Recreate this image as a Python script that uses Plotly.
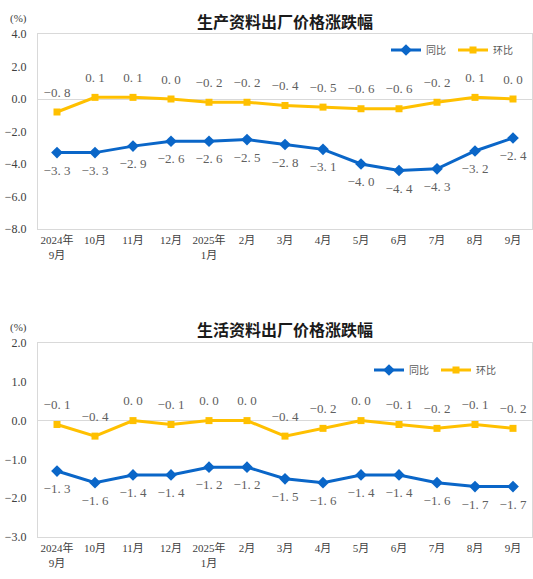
import plotly.graph_objects as go

# months on the category axis
months = ["2024年<br>9月", "10月", "11月", "12月", "2025年<br>1月", "2月", "3月",
          "4月", "5月", "6月", "7月", "8月", "9月"]

# 生产资料 (producer goods)
prod_yoy = [-3.3, -3.3, -2.9, -2.6, -2.6, -2.5, -2.8, -3.1, -4.0, -4.4, -4.3, -3.2, -2.4]
prod_mom = [-0.8, 0.1, 0.1, 0.0, -0.2, -0.2, -0.4, -0.5, -0.6, -0.6, -0.2, 0.1, 0.0]

# 生活资料 (consumer goods)
cons_yoy = [-1.3, -1.6, -1.4, -1.4, -1.2, -1.2, -1.5, -1.6, -1.4, -1.4, -1.6, -1.7, -1.7]
cons_mom = [-0.1, -0.4, 0.0, -0.1, 0.0, 0.0, -0.4, -0.2, 0.0, -0.1, -0.2, -0.1, -0.2]

W, H = 533, 579
BLUE = "#0A66C8"
YELLOW = "#FFC000"
SERIF = "Liberation Serif, Noto Sans CJK SC"


def lbl(vals):
    # mimic the wide spacing of the original labels
    return [f"{v:.1f}".replace("-", "\u2212").replace(".", ". ") for v in vals]


def px_x(p):
    return p / W


def px_y(p):
    return 1 - p / H


fig = go.Figure()

panels = [
    (prod_yoy, prod_mom, "x", "y", "legend"),
    (cons_yoy, cons_mom, "x2", "y2", "legend2"),
]
for yoy, mom, xa, ya, lg in panels:
    for vals, name, col, sym, size, pos in [
        (yoy, "同比", BLUE, "diamond", 9, "bottom center"),
        (mom, "环比", YELLOW, "square", 7, "top center"),
    ]:
        fig.add_trace(go.Scatter(
            x=months, y=vals, name=name, mode="lines+markers",
            xaxis=xa, yaxis=ya, legend=lg,
            line=dict(color=col, width=3),
            marker=dict(symbol=sym, size=size, color=col),
        ))
        # labels: invisible bigger markers push the text further away
        fig.add_trace(go.Scatter(
            x=months, y=vals, mode="markers+text", showlegend=False,
            xaxis=xa, yaxis=ya, hoverinfo="skip",
            marker=dict(size=18, color="rgba(0,0,0,0)"),
            text=lbl(vals), textposition=pos,
            textfont=dict(family=SERIF, size=13, color="#606060"),
            cliponaxis=False,
        ))

xcommon = dict(
    type="category", range=[-0.5, 12.5], domain=[px_x(38), px_x(532)],
    showline=True, mirror=True, linecolor="#D9D9D9", linewidth=1,
    showgrid=False, ticks="", ticklabelstandoff=1,
    tickfont=dict(family=SERIF, size=11, color="#404040"),
)
ycommon = dict(
    showline=True, mirror=True, linecolor="#D9D9D9", linewidth=1,
    showgrid=False, zeroline=True, zerolinecolor="#D9D9D9", zerolinewidth=1,
    tickformat=".1f", ticks="", ticklabelstandoff=8,
    tickfont=dict(family=SERIF, size=12, color="#404040"),
)

legcommon = dict(
    orientation="h", xanchor="left", yanchor="middle",
    font=dict(family="Noto Sans CJK SC", size=10, color="#595959"),
    bgcolor="rgba(0,0,0,0)", itemwidth=30, entrywidth=22,
)

fig.update_layout(
    width=W, height=H,
    margin=dict(l=0, r=0, t=0, b=0, autoexpand=False),
    paper_bgcolor="white", plot_bgcolor="white",
    showlegend=True, hovermode=False,
    xaxis=dict(xcommon, anchor="y"),
    yaxis=dict(ycommon, anchor="x", range=[-8, 4], dtick=2,
               domain=[px_y(229), px_y(34)]),
    xaxis2=dict(xcommon, anchor="y2"),
    yaxis2=dict(ycommon, anchor="x2", range=[-3, 2], dtick=1,
                domain=[px_y(537), px_y(343)]),
    legend=dict(legcommon, x=px_x(386), y=px_y(50)),
    legend2=dict(legcommon, x=px_x(369), y=px_y(370)),
)

titles = [("生产资料出厂价格涨跌幅", 21), ("生活资料出厂价格涨跌幅", 329)]
for t, yy in titles:
    fig.add_annotation(
        text=f"<b>{t}</b>", x=px_x(285), y=px_y(yy), xref="paper", yref="paper",
        showarrow=False, xanchor="center", yanchor="middle",
        font=dict(family="Noto Sans CJK SC", size=16, color="#1A1A1A"),
    )
for yy in (19, 327):
    fig.add_annotation(
        text="(%)", x=px_x(18), y=px_y(yy), xref="paper", yref="paper",
        showarrow=False, xanchor="center", yanchor="middle",
        font=dict(family=SERIF, size=11, color="#404040"),
    )

# page body has a default 8px margin; drop it so the figure sits at 0,0
fig.write_html(
    "out.html",
    config={"displayModeBar": False},
    post_script=(
        "document.documentElement.style.margin='0';"
        "document.documentElement.style.overflow='hidden';"
        "document.body.style.margin='0';"
        "document.body.style.overflow='hidden';"
    ),
)
